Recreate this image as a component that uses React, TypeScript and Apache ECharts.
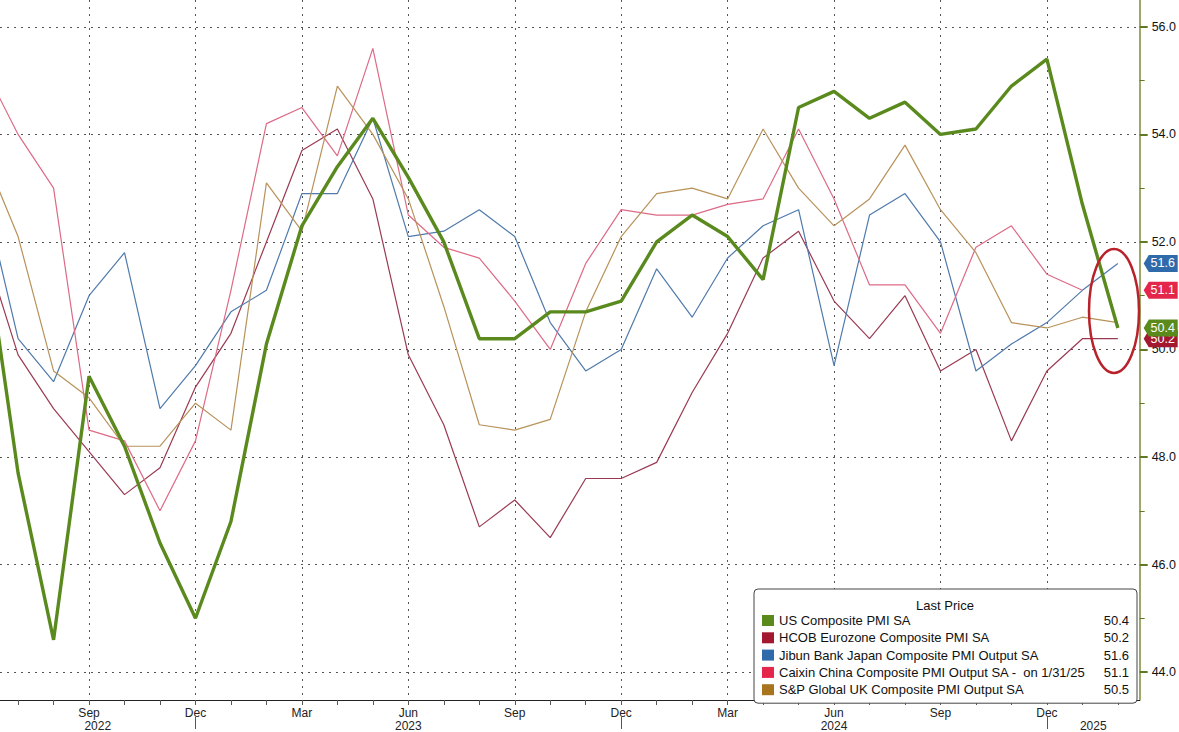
import React, { useEffect, useRef } from "react";
import * as echarts from "echarts";

// Months from Jun 2022 (index 0) to Feb 2025 (index 32)
const monthLabels = [
  "Jun", "Jul", "Aug", "Sep", "Oct", "Nov", "Dec",
  "Jan", "Feb", "Mar", "Apr", "May", "Jun", "Jul", "Aug", "Sep", "Oct", "Nov", "Dec",
  "Jan", "Feb", "Mar", "Apr", "May", "Jun", "Jul", "Aug", "Sep", "Oct", "Nov", "Dec",
  "Jan", "Feb",
];
const yearLabels = ["2022", "2023", "2024", "2025"];
const yearBreaks = [6, 18, 30]; // Dec positions separating years

const usComposite = [52.3, 47.7, 44.6, 49.5, 48.2, 46.4, 45.0, 46.8, 50.1, 52.3, 53.4, 54.3, 53.2, 52.0, 50.2, 50.2, 50.7, 50.7, 50.9, 52.0, 52.5, 52.1, 51.3, 54.5, 54.8, 54.3, 54.6, 54.0, 54.1, 54.9, 55.4, 52.7, 50.4];
const eurozone = [52.0, 49.9, 48.9, 48.1, 47.3, 47.8, 49.3, 50.3, 52.0, 53.7, 54.1, 52.8, 49.9, 48.6, 46.7, 47.2, 46.5, 47.6, 47.6, 47.9, 49.2, 50.3, 51.7, 52.2, 50.9, 50.2, 51.0, 49.6, 50.0, 48.3, 49.6, 50.2, 50.2];
const japan = [53.0, 50.2, 49.4, 51.0, 51.8, 48.9, 49.7, 50.7, 51.1, 52.9, 52.9, 54.3, 52.1, 52.2, 52.6, 52.1, 50.5, 49.6, 50.0, 51.5, 50.6, 51.7, 52.3, 52.6, 49.7, 52.5, 52.9, 52.0, 49.6, 50.1, 50.5, 51.1, 51.6];
const china = [55.3, 54.0, 53.0, 48.5, 48.3, 47.0, 48.3, 51.1, 54.2, 54.5, 53.6, 55.6, 52.5, 51.9, 51.7, 50.9, 50.0, 51.6, 52.6, 52.5, 52.5, 52.7, 52.8, 54.1, 52.8, 51.2, 51.2, 50.3, 51.9, 52.3, 51.4, 51.1];
const uk = [53.7, 52.1, 49.6, 49.1, 48.2, 48.2, 49.0, 48.5, 53.1, 52.2, 54.9, 54.0, 52.8, 50.8, 48.6, 48.5, 48.7, 50.7, 52.1, 52.9, 53.0, 52.8, 54.1, 53.0, 52.3, 52.8, 53.8, 52.6, 51.8, 50.5, 50.4, 50.6, 50.5];

const seriesNames = [
  "US Composite PMI SA",
  "HCOB Eurozone Composite PMI SA",
  "Jibun Bank Japan Composite PMI Output SA",
  "Caixin China Composite PMI Output SA -  on 1/31/25",
  "S&P Global UK Composite PMI Output SA",
];

const yTicks = [44, 46, 48, 50, 52, 54, 56];
const yMinorTicks = [45, 47, 49, 51, 53, 55];
const quarterTicks = [3, 6, 9, 12, 15, 18, 21, 24, 27, 30];
const monthTicks = [1, 2, 3, 4, 5, 6, 7, 8, 9, 10, 11, 12, 13, 14, 15, 16, 17, 18, 19, 20, 21, 22, 23, 24, 25, 26, 27, 28, 29, 30, 31, 32];

const X_MIN = 0.49;
const X_MAX = 32.615;
const Y_MIN = 43.48;
const Y_MAX = 56.5;
const FONT = "'Liberation Sans', Arial, sans-serif";

const seriesDefs = [
  { name: seriesNames[1], values: eurozone, color: "#a3182f", line: "#9a3a52", width: 1.2, z: 2, badge: true },
  { name: seriesNames[2], values: japan, color: "#2f6aab", line: "#4f7aab", width: 1.2, z: 2, badge: true },
  { name: seriesNames[3], values: china, color: "#e3264a", line: "#dd6a86", width: 1.2, z: 2, badge: true },
  { name: seriesNames[4], values: uk, color: "#a9741e", line: "#b8925a", width: 1.2, z: 2, badge: false },
  { name: seriesNames[0], values: usComposite, color: "#5b8a1c", line: "#5a8a1e", width: 3.4, z: 4, badge: true },
];

const badgePath = "path://M0,8 L6,0 L40,0 L40,16 L6,16 Z";

export default function App() {
  const ref = useRef<HTMLDivElement>(null);
  useEffect(() => {
    if (!ref.current) return;
    const chart = echarts.init(ref.current, null, { renderer: "svg" });
    const lastMap: Record<string, number> = {};
    seriesDefs.forEach((s) => (lastMap[s.name] = s.values[s.values.length - 1]));

    const yearPos = [
      (X_MIN + yearBreaks[0]) / 2,
      (yearBreaks[0] + yearBreaks[1]) / 2,
      (yearBreaks[1] + yearBreaks[2]) / 2,
      (yearBreaks[2] + X_MAX) / 2,
    ];

    const dash = { type: [2, 5] as any, color: "#555", width: 1 };

    const option: any = {
      animation: false,
      backgroundColor: "#fff",
      textStyle: { fontFamily: FONT },
      grid: { left: 0, top: 0, right: 36, bottom: 29, containLabel: false },
      xAxis: [
        {
          type: "value", min: X_MIN, max: X_MAX, position: "bottom",
          axisLine: { show: true, lineStyle: { color: "#222", width: 1 } },
          axisTick: { show: true, customValues: monthTicks, length: 5, lineStyle: { color: "#555" } },
          axisLabel: {
            show: true, customValues: quarterTicks, margin: 7, fontSize: 12, color: "#222", fontFamily: FONT,
            formatter: (v: number) => monthLabels[Math.round(v)] || "",
          },
          splitLine: { show: false },
        },
        {
          type: "value", min: X_MIN, max: X_MAX, position: "bottom",
          axisLine: { show: false },
          axisTick: { show: false, customValues: quarterTicks },
          axisLabel: { show: false, customValues: quarterTicks },
          splitLine: { show: true, customValues: quarterTicks, lineStyle: dash },
        },
        {
          type: "value", min: X_MIN, max: X_MAX, position: "bottom",
          axisLine: { show: false },
          axisTick: { show: false, customValues: yearPos },
          axisLabel: {
            show: true, customValues: yearPos, margin: 20, fontSize: 12, color: "#222", fontFamily: FONT,
            formatter: (v: number) => {
              let best = 0;
              yearPos.forEach((p, i) => { if (Math.abs(p - v) < Math.abs(yearPos[best] - v)) best = i; });
              return yearLabels[best];
            },
          },
          splitLine: { show: false },
        },
        {
          type: "value", min: X_MIN, max: X_MAX, position: "bottom", offset: 17,
          axisLine: { show: false },
          axisTick: { show: true, customValues: yearBreaks, length: 12, lineStyle: { color: "#555" } },
          axisLabel: { show: false, customValues: yearBreaks },
          splitLine: { show: false },
        },
      ],
      yAxis: [
        {
          type: "value", position: "right", min: Y_MIN, max: Y_MAX,
          axisLine: { show: true, lineStyle: { color: "#7d8b3a", width: 1.5 } },
          axisTick: { show: true, customValues: yTicks, length: 8, lineStyle: { color: "#5f7a22", width: 2 } },
          axisLabel: {
            show: true, customValues: yTicks, margin: 12, fontSize: 12.5, color: "#111", fontFamily: FONT,
            formatter: (v: number) => v.toFixed(1),
          },
          splitLine: { show: true, customValues: yTicks, lineStyle: dash },
        },
        {
          type: "value", position: "right", min: Y_MIN, max: Y_MAX,
          axisLine: { show: false },
          axisTick: { show: true, customValues: yMinorTicks, length: 5, lineStyle: { color: "#5f7a22", width: 1 } },
          axisLabel: { show: false, customValues: yMinorTicks },
          splitLine: { show: false },
        },
      ],
      legend: {
        orient: "vertical", left: 754, top: 589,
        padding: [25, 8, 7, 8],
        backgroundColor: "#fff", borderColor: "#444", borderWidth: 1, borderRadius: 4,
        itemWidth: 12, itemHeight: 11, itemGap: 4.3, icon: "rect",
        selectedMode: false,
        data: seriesNames,
        formatter: (name: string) => `{n|${name}}{v|${lastMap[name].toFixed(1)}}`,
        textStyle: {
          fontFamily: FONT,
          rich: {
            n: { width: 310, fontSize: 13, lineHeight: 12, color: "#111", fontFamily: FONT },
            v: { width: 40, align: "right", fontSize: 13, lineHeight: 12, color: "#111", fontFamily: FONT },
          },
        },
      },
      graphic: [
        {
          type: "text", x: 945, y: 605, z: 100,
          style: { text: "Last Price", font: `13px ${FONT}`, fill: "#111", textAlign: "center", textVerticalAlign: "middle" },
        },
        {
          type: "ellipse", z: 100, silent: true,
          shape: { cx: 1114, cy: 311, rx: 25, ry: 62 },
          style: { fill: "none", stroke: "#b8222a", lineWidth: 2.5 },
        },
      ],
      series: seriesDefs.map((s) => ({
        type: "line",
        name: s.name,
        xAxisIndex: 0,
        yAxisIndex: 0,
        data: s.values.map((v, i) => [i, v]),
        showSymbol: false,
        symbol: "none",
        z: s.z,
        itemStyle: { color: s.color },
        lineStyle: { color: s.line, width: s.width },
        emphasis: { disabled: true },
        markPoint: s.badge
          ? {
              silent: true,
              z: s.z + 5,
              symbol: badgePath,
              symbolSize: [34, 17],
              symbolOffset: [21, 0],
              symbolKeepAspect: false,
              itemStyle: { color: s.color },
              label: {
                show: true, color: "#fff", fontSize: 12.5, fontFamily: FONT, offset: [2, 0],
                formatter: (p: any) => Number(p.value).toFixed(1),
              },
              data: [{ coord: [X_MAX, s.values[s.values.length - 1]], value: s.values[s.values.length - 1] }],
            }
          : undefined,
      })),
    };
    chart.setOption(option);
    return () => chart.dispose();
  }, []);
  return (
    <div
      ref={ref}
      style={{ position: "fixed", left: 0, top: 0, width: 1179, height: 732, background: "#fff" }}
    />
  );
}
